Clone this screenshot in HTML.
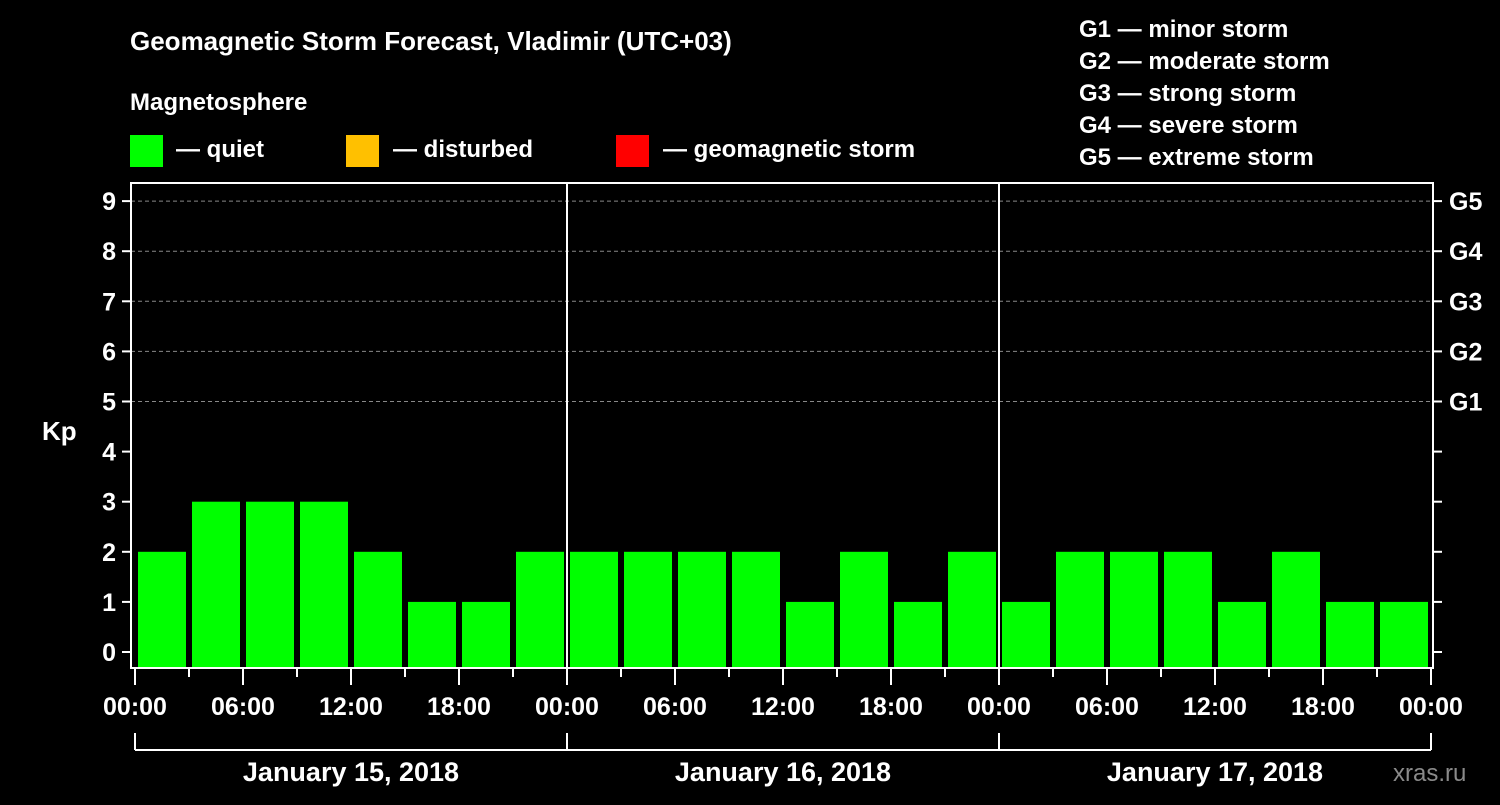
<!DOCTYPE html>
<html><head><meta charset="utf-8"><style>
body{margin:0;background:#000;width:1500px;height:800px;overflow:hidden;font-family:"Liberation Sans",sans-serif}
svg text{font-family:"Liberation Sans",sans-serif;font-weight:bold;fill:#fff}
</style></head><body>
<svg id="c" width="1500" height="800">
<text x="130" y="50" font-size="26">Geomagnetic Storm Forecast, Vladimir (UTC+03)</text>
<text x="130" y="110" font-size="24">Magnetosphere</text>
<g><rect x="130" y="135" width="33" height="32" fill="#00ff00"/><text x="176" y="157" font-size="24">— quiet</text></g>
<g><rect x="346" y="135" width="33" height="32" fill="#ffc000"/><text x="393" y="157" font-size="24">— disturbed</text></g>
<g><rect x="616" y="135" width="33" height="32" fill="#ff0000"/><text x="663" y="157" font-size="24">— geomagnetic storm</text></g>
<g font-size="24">
<text x="1079" y="37">G1 — minor storm</text><text x="1079" y="69">G2 — moderate storm</text><text x="1079" y="101">G3 — strong storm</text><text x="1079" y="133">G4 — severe storm</text><text x="1079" y="165">G5 — extreme storm</text></g>
<text x="42" y="440" font-size="26">Kp</text>
<text x="1393" y="781" font-size="24" fill="#888" style="fill:#8a8a8a;font-weight:normal">xras.ru</text>
<g id="plot"></g>
</svg>
<script>
const kpValues=[2,3,3,3,2,1,1,2, 2,2,2,2,1,2,1,2, 1,2,2,2,1,2,1,1];
const dayLabels=["January 15, 2018","January 16, 2018","January 17, 2018"];
const yTicks=[0,1,2,3,4,5,6,7,8,9];
const gLabels=["G1","G2","G3","G4","G5"];
const hourLabels=["00:00","06:00","12:00","18:00"];
const ns="http://www.w3.org/2000/svg";
const g=document.getElementById('plot');
const X0=135,X1=1431,Y0=652,UNIT=50.1,BOTTOM=668;
const slot=(X1-X0)/kpValues.length;
const xs=i=>X0+i*slot;
const ys=v=>Y0-v*UNIT;
function mk(t,a,txt){const e=document.createElementNS(ns,t);for(const k in a)e.setAttribute(k,a[k]);if(txt!==undefined)e.textContent=txt;g.appendChild(e);return e;}
// grid
[5,6,7,8,9].forEach(v=>{const e=mk('line',{x1:131,x2:1433,y1:ys(v),y2:ys(v),stroke:'#888','stroke-dasharray':'4,3','stroke-width':1});

});
// bars
kpValues.forEach((v,i)=>{const col=v>=5?'#ff0000':(v>=4?'#ffc000':'#00ff00');
const e=mk('rect',{x:xs(i)+3,y:ys(v),width:slot-6,height:BOTTOM-ys(v),fill:col});

});
// frame
const fr=mk('rect',{x:131,y:183,width:1302,height:485,fill:'none',stroke:'#fff','stroke-width':2});


for(let d=1;d<dayLabels.length;d++){const e=mk('line',{x1:xs(d*8),x2:xs(d*8),y1:183,y2:668,stroke:'#fff','stroke-width':2});

}
// y ticks
yTicks.forEach(v=>{mk('line',{x1:122,x2:131,y1:ys(v),y2:ys(v),stroke:'#fff','stroke-width':2});
mk('line',{x1:1433,x2:1442,y1:ys(v),y2:ys(v),stroke:'#fff','stroke-width':2});
const t=mk('text',{x:116,y:ys(v)+9,'font-size':25,'text-anchor':'end'},String(v));

});
gLabels.forEach((l,i)=>{const t=mk('text',{x:1449,y:ys(5+i)+9,'font-size':25},l);

});
// x ticks
for(let i=0;i<=kpValues.length;i++){const major=i%2===0;
mk('line',{x1:xs(i),x2:xs(i),y1:669,y2:major?685:677,stroke:'#fff','stroke-width':2});
if(major){const t=mk('text',{x:xs(i),y:715,'font-size':25,'text-anchor':'middle'},hourLabels[(i/2)%4]);

}}
// day brackets
mk('line',{x1:X0,x2:X1,y1:750,y2:750,stroke:'#fff','stroke-width':2});
for(let d=0;d<=dayLabels.length;d++)mk('line',{x1:xs(d*8),x2:xs(d*8),y1:733,y2:750,stroke:'#fff','stroke-width':2});
dayLabels.forEach((l,d)=>{const t=mk('text',{x:(xs(d*8)+xs(d*8+8))/2,y:781,'font-size':27,'text-anchor':'middle'},l);

});
</script>
</body></html>
